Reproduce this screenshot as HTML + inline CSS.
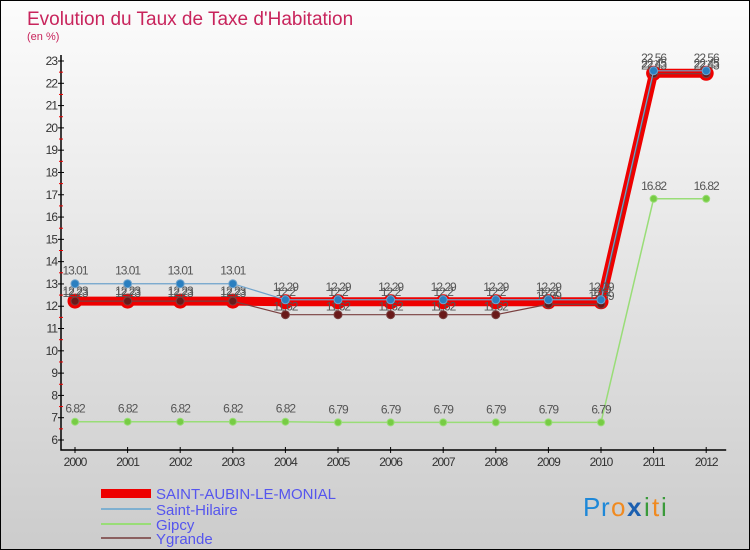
<!DOCTYPE html>
<html><head><meta charset="utf-8"><style>
body{margin:0;width:750px;height:550px;overflow:hidden;font-family:"Liberation Sans",sans-serif}
#wrap{position:relative;width:748px;height:548px;border:1px solid #000;background:linear-gradient(#fcfcfc,#cccccc)}
svg{position:absolute;left:0;top:0}
</style></head><body>
<div id="wrap">
<svg id="chart" width="748" height="548">
<text x="26" y="24" font-size="19" fill="#c8245c">Evolution du Taux de Taxe d'Habitation</text>
<text x="26" y="39" font-size="11" fill="#c8245c">(en %)</text>
<g id="axes"></g><g id="series"></g>
<g>
<rect x="100" y="488" width="50" height="9" fill="#e00"/>
<text x="155" y="498" font-size="15" fill="#5555ee">SAINT-AUBIN-LE-MONIAL</text>
<rect x="100" y="507" width="50" height="2" fill="#7fb0d0"/>
<text x="155" y="514" font-size="15" fill="#5555ee">Saint-Hilaire</text>
<rect x="100" y="522" width="50" height="2" fill="#99dd77"/>
<text x="155" y="529" font-size="15" fill="#5555ee">Gipcy</text>
<rect x="100" y="536" width="50" height="2" fill="#8b6060"/>
<text x="155" y="543" font-size="15" fill="#5555ee">Ygrande</text>
</g>
<g font-size="26" font-family="Liberation Sans, sans-serif">
<text x="582" y="515" fill="#1e88d8">P</text><text x="600" y="515" fill="#1e88d8">r</text><text x="610" y="515" fill="#f08a20">o</text><text x="626" y="515" fill="#1b5fb0" font-weight="bold">x</text><text x="643" y="515" fill="#3a9a3a">i</text><text x="651" y="515" fill="#f08a20">t</text><text x="660" y="515" fill="#3a9a3a">i</text>
</g>
</svg></div>
<script>
const years=[2000,2001,2002,2003,2004,2005,2006,2007,2008,2009,2010,2011,2012];
const saintAubin=[12.23,12.23,12.23,12.23,12.2,12.2,12.2,12.2,12.2,12.2,12.2,22.45,22.45];
const saintHilaire=[13.01,13.01,13.01,13.01,12.29,12.29,12.29,12.29,12.29,12.29,12.29,22.56,22.56];
const gipcy=[6.82,6.82,6.82,6.82,6.82,6.79,6.79,6.79,6.79,6.79,6.79,16.82,16.82];
const ygrande=[12.23,12.23,12.23,12.23,11.62,11.62,11.62,11.62,11.62,12.09,12.09,22.43,22.43];
const yTicks=[6,7,8,9,10,11,12,13,14,15,16,17,18,19,20,21,22,23];
const NS='http://www.w3.org/2000/svg';
const X=i=>74+i*52.6;
const Y=v=>439-(v-6)*(379/17);
function mk(tag,attrs,parent){const e=document.createElementNS(NS,tag);for(const k in attrs)e.setAttribute(k,attrs[k]);parent.appendChild(e);return e;}
const axes=document.getElementById('axes');
const ax=mk('path',{d:`M60 ${Y(23)-6}V449H${X(12)+20}`,stroke:'#000',fill:'none','stroke-width':1.5},axes);


yTicks.forEach(t=>{
  mk('line',{x1:57,x2:63,y1:Y(t),y2:Y(t),stroke:'#000'},axes);
  if(t<23)mk('line',{x1:58,x2:62,y1:Y(t+0.5),y2:Y(t+0.5),stroke:'#e00'},axes);
  const tx=mk('text',{x:56,y:Y(t)+4,'font-size':12,fill:'#333','text-anchor':'end','letter-spacing':'-1'},axes);
  tx.textContent=t;
  
  
});
years.forEach((yr,i)=>{
  mk('line',{x1:X(i),x2:X(i),y1:446,y2:452,stroke:'#000'},axes);
  const tx=mk('text',{x:X(i),y:465,'font-size':12,fill:'#333','text-anchor':'middle','letter-spacing':'-1'},axes);
  tx.textContent=yr;
  
  
});
const sg=document.getElementById('series');
function series(vals,name,color,w,r,fillPt,labelDy){
  const g=mk('g',{},sg);
  
  
  mk('polyline',{points:vals.map((v,i)=>X(i)+','+Y(v)).join(' '),fill:'none',stroke:color,'stroke-width':w},g);
  vals.forEach((v,i)=>{
    const c=mk('circle',{cx:X(i),cy:Y(v),r:r,fill:fillPt,stroke:color,'stroke-width':1},g);
    
    
    const t=mk('text',{x:X(i),y:Y(v)+labelDy,'font-size':12,fill:'#555','text-anchor':'middle','letter-spacing':'-1'},g);
    t.textContent=v;
  });
}
series(gipcy,'gipcy','#99dd77',1.5,3.5,'#77cc44',-9);
series(saintAubin,'saint-aubin','#e00',9,7,'#e00',-6);
series(ygrande,'ygrande','#7a4040',1.2,4,'#6a1a1a',-4);
series(saintHilaire,'saint-hilaire','#6fa3cc',1.2,4,'#2a7fc0',-9);
</script>
</body></html>
